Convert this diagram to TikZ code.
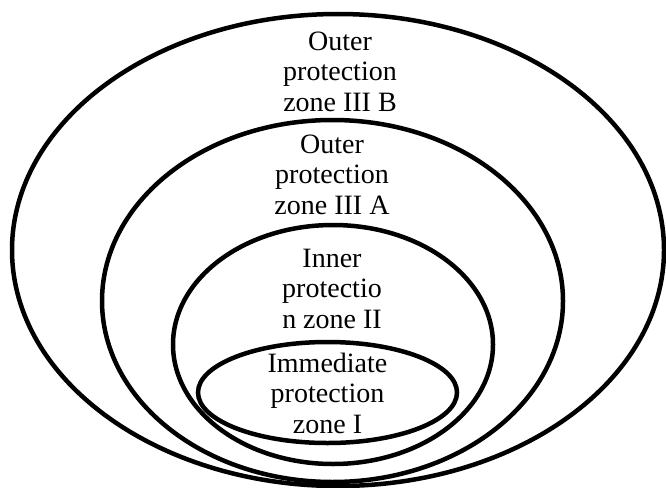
\documentclass[tikz,border=0pt]{standalone}
\usepackage{fontspec}
\setmainfont{Liberation Serif}
\begin{document}
\begin{tikzpicture}[x=1pt,y=-1pt,
  zone/.style={draw=black,line width=4.5pt},
  lbl/.style={align=center,inner sep=0pt,anchor=base,font=\fontsize{28}{30.5}\selectfont}]
\useasboundingbox (0,0) rectangle (666,487);
\draw[zone] (338,250) ellipse [x radius=326, y radius=236];
\draw[zone] (332.5,301) ellipse [x radius=230.5, y radius=181];
\draw[zone] (333,344.5) ellipse [x radius=160, y radius=119.5];
\draw[zone] (327.5,392.5) ellipse [x radius=129.5, y radius=50.5];
\node[lbl] (zIIIB) at (340,111) {Outer\\protection\\zone III B};
\node[lbl] (zIIIA) at (332,214) {Outer\\protection\\zone III A};
\node[lbl] (zII) at (332,328) {Inner\\protectio\\n zone II};
\node[lbl] (zI) at (327.5,433) {Immediate\\protection\\zone I};
\end{tikzpicture}
\end{document}
